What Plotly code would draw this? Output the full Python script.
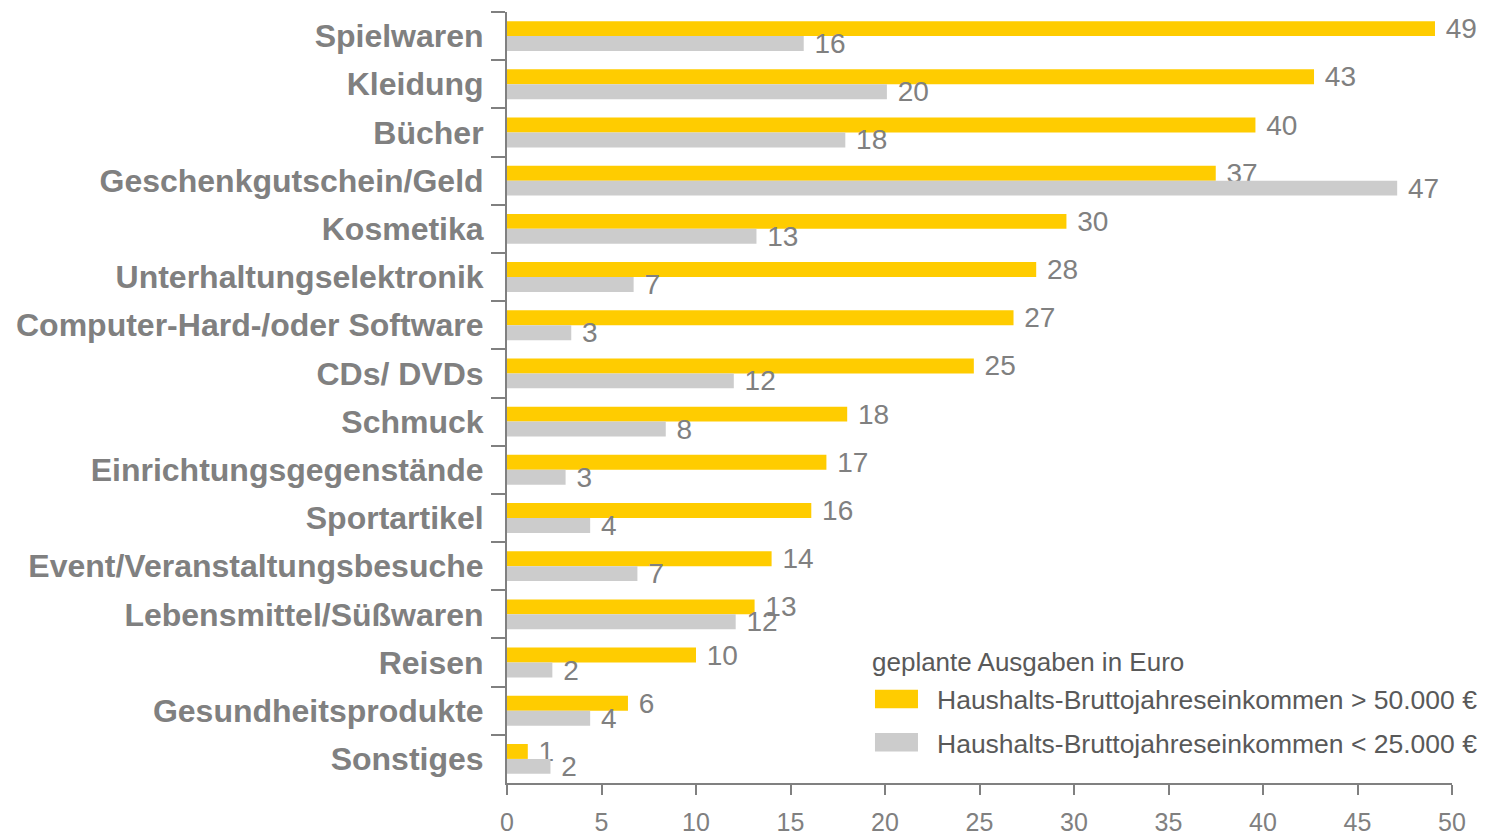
import plotly.graph_objects as go

categories = [
    "Spielwaren", "Kleidung", "Bücher", "Geschenkgutschein/Geld", "Kosmetika",
    "Unterhaltungselektronik", "Computer-Hard-/oder Software", "CDs/ DVDs",
    "Schmuck", "Einrichtungsgegenstände", "Sportartikel",
    "Event/Veranstaltungsbesuche", "Lebensmittel/Süßwaren", "Reisen",
    "Gesundheitsprodukte", "Sonstiges",
]
high_income = [49.1, 42.7, 39.6, 37.5, 29.6, 28.0, 26.8, 24.7, 18.0, 16.9, 16.1, 14.0, 13.1, 10.0, 6.4, 1.1]
low_income = [15.7, 20.1, 17.9, 47.1, 13.2, 6.7, 3.4, 12.0, 8.4, 3.1, 4.4, 6.9, 12.1, 2.4, 4.4, 2.3]
high_labels = ["49", "43", "40", "37", "30", "28", "27", "25", "18", "17", "16", "14", "13", "10", "6", "1"]
low_labels = ["16", "20", "18", "47", "13", "7", "3", "12", "8", "3", "4", "7", "12", "2", "4", "2"]
x_ticks = [0, 5, 10, 15, 20, 25, 30, 35, 40, 45, 50]
series_names = ["Haushalts-Bruttojahreseinkommen > 50.000 €", "Haushalts-Bruttojahreseinkommen < 25.000 €"]
series_colors = ["#FFCC00", "#CCCCCC"]
legend_title = "geplante Ausgaben in Euro"

FONT = "Liberation Sans, Arial, sans-serif"
GREY_TXT = "#808080"
LEG_TXT = "#595959"

fig = go.Figure()
for vals, labels, name, color in zip([high_income, low_income], [high_labels, low_labels], series_names, series_colors):
    fig.add_trace(go.Bar(
        y=categories, x=vals, orientation="h", name=name,
        marker=dict(color=color, line=dict(width=0)),
        text=labels, texttemplate=" %{text}", textposition="outside", constraintext="none",
        textfont=dict(family=FONT, size=28, color=GREY_TXT), cliponaxis=False,
        showlegend=False,
    ))

# manual legend (large swatches like the reference)
fig.add_annotation(
    xref="paper", yref="paper", x=0.384, y=0.157, xanchor="left", yanchor="middle",
    text=legend_title, showarrow=False,
    font=dict(family=FONT, size=26, color=LEG_TXT),
)
swatch_y = [(0.097, 0.121), (0.041, 0.065)]
text_y = [0.108, 0.050]
for (y0, y1), ty, name, color in zip(swatch_y, text_y, series_names, series_colors):
    fig.add_shape(type="rect", xref="paper", yref="paper", x0=0.3894, x1=0.4349, y0=y0, y1=y1,
                  fillcolor=color, line=dict(width=0))
    fig.add_annotation(
        xref="paper", yref="paper", x=0.4524, y=ty, xanchor="left", yanchor="middle",
        text=name, showarrow=False,
        font=dict(family=FONT, size=26.5, color=LEG_TXT),
    )

fig.update_layout(
    width=1499, height=834,
    barmode="group", bargap=0.38, bargroupgap=0,
    paper_bgcolor="white", plot_bgcolor="white",
    margin=dict(l=499, r=55, t=4, b=59, autoexpand=False),
    font=dict(family=FONT, color=GREY_TXT),
    showlegend=False,
    xaxis=dict(
        range=[0, 50], tickvals=x_ticks, showgrid=False, zeroline=False,
        showline=True, linecolor=GREY_TXT, linewidth=2,
        ticks="outside", ticklen=10, tickwidth=2, tickcolor=GREY_TXT,
        ticklabelstandoff=6, automargin=False,
        tickfont=dict(family=FONT, size=25, color=GREY_TXT),
    ),
    yaxis=dict(
        categoryorder="array", categoryarray=categories, autorange="reversed",
        showgrid=False, zeroline=False,
        showline=True, linecolor=GREY_TXT, linewidth=2,
        ticks="outside", ticklen=14, tickwidth=2, tickcolor=GREY_TXT,
        tickson="boundaries", ticklabelstandoff=15, automargin=False,
        tickfont=dict(family=FONT, size=32, color=GREY_TXT, weight="bold"),
    ),
)

fig.write_html("out.html")
